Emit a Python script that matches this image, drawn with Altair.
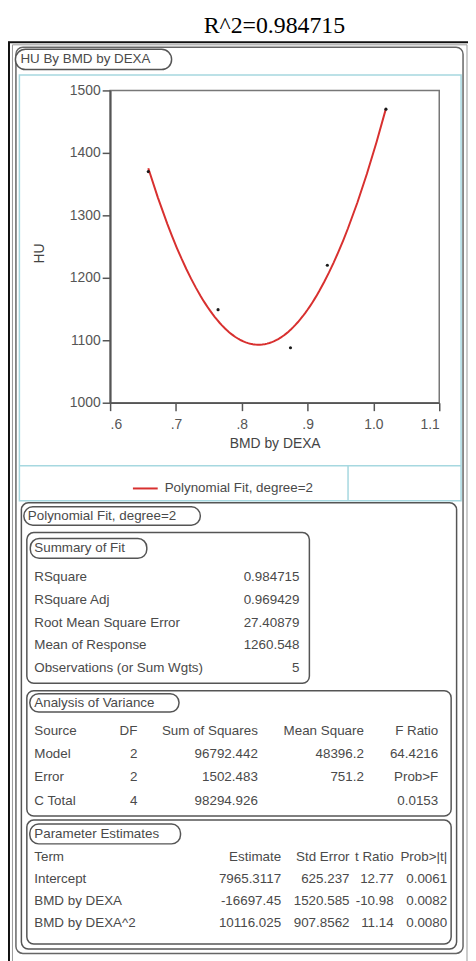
import altair as alt
import pandas as pd

# ---------------- data ----------------
report_title = "R^2=0.984715"
section_titles = ["HU By BMD by DEXA", "Polynomial Fit, degree=2", "Summary of Fit",
                  "Analysis of Variance", "Parameter Estimates"]
bmd = [0.658, 0.764, 0.874, 0.930, 1.019]
hu = [1370, 1149, 1088, 1220, 1470]
fit_label = "Polynomial Fit, degree=2"
x_ticks = [0.6, 0.7, 0.8, 0.9, 1.0, 1.1]
y_ticks = [1000, 1100, 1200, 1300, 1400, 1500]

sf_labels = ["RSquare", "RSquare Adj", "Root Mean Square Error", "Mean of Response",
             "Observations (or Sum Wgts)"]
sf_values = ["0.984715", "0.969429", "27.40879", "1260.548", "5"]

av_columns = ["Source", "DF", "Sum of Squares", "Mean Square", "F Ratio"]
av_rows = [["Model", "2", "96792.442", "48396.2", "64.4216"],
           ["Error", "2", "1502.483", "751.2", "Prob>F"],
           ["C Total", "4", "98294.926", "", "0.0153"]]

pe_columns = ["Term", "Estimate", "Std Error", "t Ratio", "Prob>|t|"]
pe_rows = [["Intercept", "7965.3117", "625.237", "12.77", "0.0061"],
           ["BMD by DEXA", "-16697.45", "1520.585", "-10.98", "0.0082"],
           ["BMD by DEXA^2", "10116.025", "907.8562", "11.14", "0.0080"]]

# ---------------- layout (page pixels) ----------------
PLOT_L, PLOT_T, PLOT_W, PLOT_H = 111, 87, 332, 315
SVG_W, SVG_H = 464, 953
FONT = "Liberation Sans"
FS = 13.5
TXT = "#4a4a4a"
RED = "#d8302f"
BLUE = "#a6d8e0"
GREY = "#555555"


def px(X):
    return X - PLOT_L


def py(Y):
    return Y - PLOT_T


def box(x1, y1, x2, y2, stroke=GREY, sw=1.5, radius=0, fill=None):
    kw = dict(stroke=stroke, strokeWidth=sw)
    if radius:
        kw["cornerRadius"] = radius
    if fill:
        m = alt.Chart().mark_rect(fill=fill, **kw)
    else:
        m = alt.Chart().mark_rect(filled=False, **kw)
    return m.encode(x=alt.value(px(x1)), x2=alt.value(px(x2)),
                    y=alt.value(py(y1)), y2=alt.value(py(y2)))


def hrule(x1, x2, y, color, sw):
    return alt.Chart().mark_rule(color=color, strokeWidth=sw).encode(
        x=alt.value(px(x1)), x2=alt.value(px(x2)), y=alt.value(py(y)))


def vrule(x, y1, y2, color, sw):
    return alt.Chart().mark_rule(color=color, strokeWidth=sw).encode(
        x=alt.value(px(x)), y=alt.value(py(y1)), y2=alt.value(py(y2)))


decos = [
    hrule(8, 472, 38.5, "#111111", 2),
    vrule(9, 38, 975, "#111111", 2),
    box(12.5, 41, 471, 990, stroke="#999999", sw=1),
    box(16, 43.5, 467, 957.5, stroke="#666666", sw=1.5, radius=7),
    box(15.5, 45.5, 173, 66, radius=10, fill="white"),
    box(19.5, 71.5, 465, 501, stroke=BLUE, sw=1.5),
    hrule(19.5, 465, 465.5, BLUE, 1.5),
    vrule(351, 465.5, 501, BLUE, 1.5),
    box(21.5, 503, 460.5, 953, radius=7),
    box(24, 507, 202, 525.5, radius=9, fill="white"),
    box(27, 533, 312, 685, radius=7),
    box(30.5, 539, 148, 559, radius=9, fill="white"),
    box(27, 692.5, 455, 819, radius=7),
    box(30, 695.5, 180.5, 714, radius=9, fill="white"),
    box(27, 823, 455, 948, radius=7),
    box(30, 827, 182, 847, radius=9, fill="white"),
]

# ---------------- scatter + fit ----------------
pts = pd.DataFrame({"bmd": bmd, "hu": hu})

axis_common = dict(labelFont=FONT, labelFontSize=14, labelColor="#555555",
                   titleFont=FONT, titleFontSize=14, titleFontWeight="normal",
                   titleColor="#444444", domainColor=GREY, tickColor=GREY,
                   tickWidth=1.5, tickSize=8, grid=False)

x_enc = alt.X("bmd:Q", title="BMD by DEXA",
              scale=alt.Scale(domain=[0.6, 1.1], nice=False, zero=False),
              axis=alt.Axis(orient="bottom", values=x_ticks, domainWidth=1.5,
                            labelExpr="replace(format(datum.value, '.1f'), '0.', '.')",
                            labelPadding=7, titlePadding=5, **axis_common))
y_enc = alt.Y("hu:Q", title="HU",
              scale=alt.Scale(domain=[1000, 1500], nice=False, zero=False),
              axis=alt.Axis(orient="left", values=y_ticks, domainWidth=2, format="d",
                            labelPadding=2, titleX=-64, titleY=164, **axis_common))

points = alt.Chart(pts).mark_circle(size=10, color="#1a1a1a", opacity=1).encode(
    x=x_enc, y=y_enc)

fit = alt.Chart(pts).transform_regression(
    "bmd", "hu", method="poly", order=2
).transform_calculate(
    series=f"'{fit_label}'"
).mark_line(strokeWidth=2).encode(
    x=x_enc, y=y_enc,
    color=alt.Color("series:N",
                    scale=alt.Scale(domain=[fit_label], range=[RED]),
                    legend=alt.Legend(title=None, orient="none",
                                      legendX=px(133), legendY=py(475),
                                      symbolType="stroke", symbolSize=625,
                                      symbolStrokeWidth=2, labelFont=FONT,
                                      labelFontSize=FS, labelColor=TXT,
                                      labelOffset=6, padding=0, labelLimit=400)))

scatter = alt.layer(fit, points)

# ---------------- report tables ----------------
# column slots: 0 HU title, 1 PF title, 2 labels, 3 SF values,
# 4-7 ANOVA numeric columns, 8-11 parameter numeric columns
col_pos = [20.5, 28, 34.5, 302, 138.5, 260, 367, 442, 283.5, 352.5, 397, 451]
# row slots
row_pos = [55.5, 516, 549, 577.7, 600.7, 624, 646.7, 670, 704.5,
           733.3, 756.7, 780, 803.3, 837, 860.7, 882.7, 905, 927.3]

cells = []


def add(r, c, t):
    if t != "":
        cells.append({"row": r, "col": c, "text": t, "side": "L" if c <= 2 else "R"})


add(0, 0, section_titles[0])
add(1, 1, section_titles[1])
add(2, 2, section_titles[2])
for i, (lab, val) in enumerate(zip(sf_labels, sf_values)):
    add(3 + i, 2, lab)
    add(3 + i, 3, val)
add(8, 2, section_titles[3])
for i, row in enumerate([av_columns] + av_rows):
    for j, t in enumerate(row):
        add(9 + i, 2 if j == 0 else 3 + j, t)
add(13, 2, section_titles[4])
for i, row in enumerate([pe_columns] + pe_rows):
    for j, t in enumerate(row):
        add(14 + i, 2 if j == 0 else 7 + j, t)

cells_df = pd.DataFrame(cells)

tx = alt.X("col:Q", axis=None,
           scale=alt.Scale(domain=list(range(len(col_pos))),
                           range=[px(v) for v in col_pos], nice=False, zero=False))
ty = alt.Y("row:Q", axis=None,
           scale=alt.Scale(domain=list(range(len(row_pos))),
                           range=[py(v) for v in row_pos], nice=False, zero=False))

txt_kw = dict(baseline="middle", font=FONT, fontSize=FS, color=TXT)
left_txt = alt.Chart(cells_df).transform_filter("datum.side == 'L'").mark_text(
    align="left", **txt_kw).encode(x=tx, y=ty, text="text:N")
right_txt = alt.Chart(cells_df).transform_filter("datum.side == 'R'").mark_text(
    align="right", **txt_kw).encode(x=tx, y=ty, text="text:N")
tables = alt.layer(left_txt, right_txt)

title = alt.Chart(pd.DataFrame({"t": [report_title]})).mark_text(
    font="Liberation Serif", fontSize=24, color="#000000", align="center",
    baseline="alphabetic").encode(
    x=alt.value(px(276.7)), y=alt.value(py(29.3)), text="t:N")

chart = alt.layer(*decos, scatter, tables, title).resolve_scale(
    x="independent", y="independent"
).properties(
    width=PLOT_W, height=PLOT_H,
    padding={"left": PLOT_L - 8, "top": PLOT_T - 8,
             "right": SVG_W - (PLOT_L - 8) - PLOT_W,
             "bottom": SVG_H - (PLOT_T - 8) - PLOT_H},
    autosize=alt.AutoSizeParams(type="none"),
).configure_view(stroke="#777777", strokeWidth=1.5)

chart.save("out.html", embed_options={"renderer": "svg", "actions": False})
